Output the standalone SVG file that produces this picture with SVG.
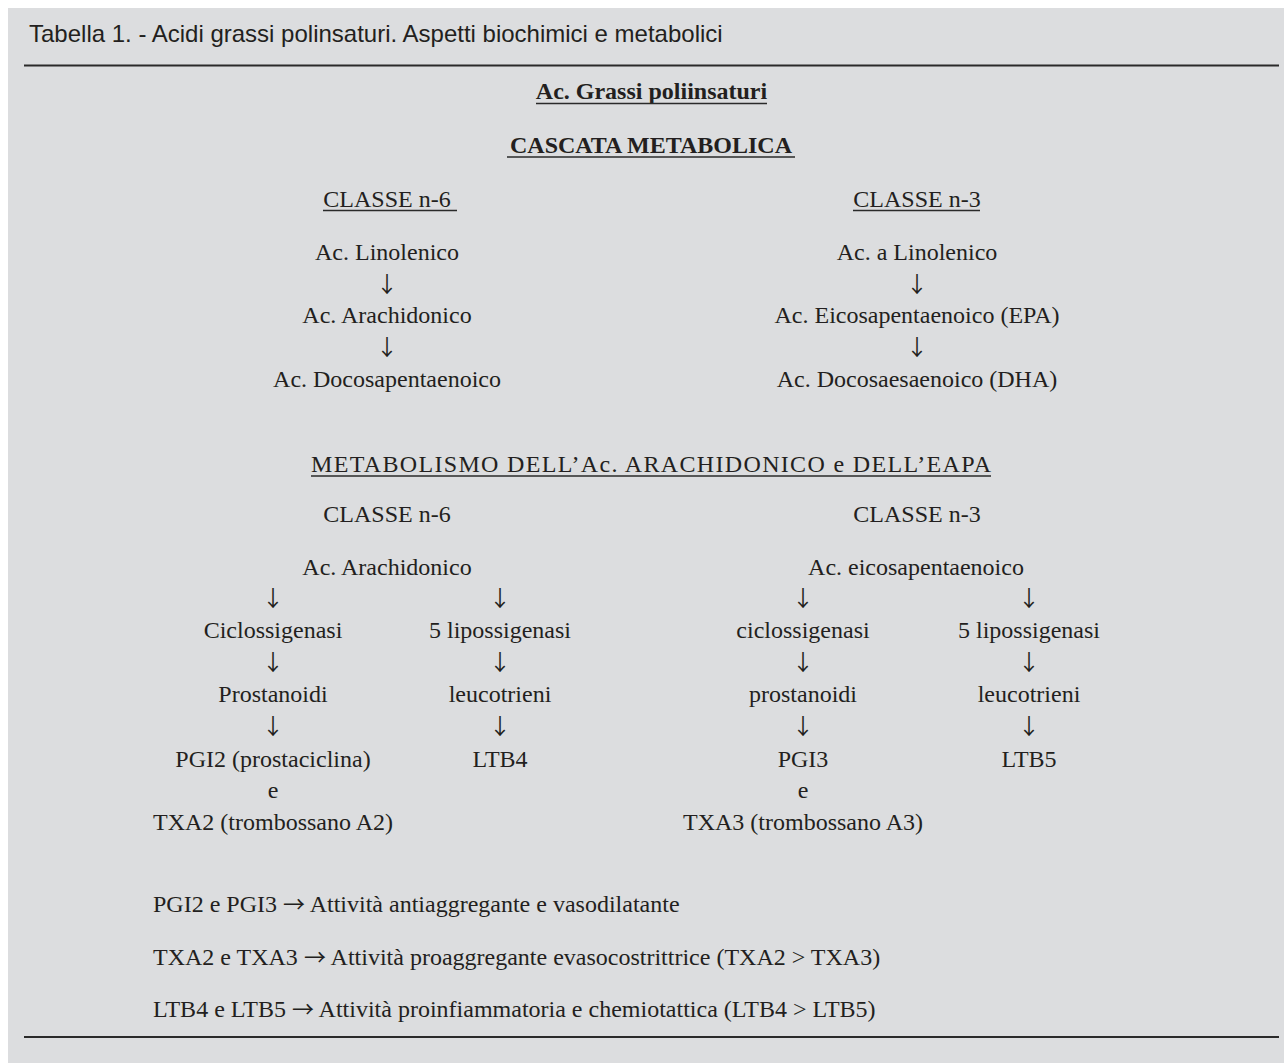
<svg xmlns="http://www.w3.org/2000/svg" width="1284" height="1063" viewBox="0 0 1284 1063">
<style>
  .bg { fill: #dcdddf; }
  .rule { stroke: #2a2a2a; stroke-width: 2; }
  .ul { stroke: #2a2a2a; stroke-width: 1.3; }
  .title { font-family: "Liberation Sans", Arial, sans-serif; font-size: 24px; fill: #231f20; }
  .t { font-family: "Liberation Serif", "Times New Roman", serif; font-size: 24px; fill: #231f20; text-anchor: middle; }
  .b { font-weight: bold; }
  .l { text-anchor: start; }
  .arr { font-family: "Noto Sans CJK SC", "DejaVu Sans", sans-serif; font-size: 22px; fill: #231f20; text-anchor: middle; }
  .ra { font-family: "Noto Sans CJK SC", "DejaVu Sans", sans-serif; font-size: 22px; fill: #231f20; }
</style>
<rect x="0" y="0" width="1284" height="1063" fill="#ffffff"/>
<rect class="bg" x="8" y="8" width="1276" height="1055"/>
<g id="header">
  <text class="title" x="29" y="42">Tabella 1. - Acidi grassi polinsaturi. Aspetti biochimici e metabolici</text>
  <line class="rule" x1="24" y1="65.5" x2="1279" y2="65.5"/>
</g>
<g id="heading-main">
  <text class="t b" x="651.5" y="99">Ac. Grassi poliinsaturi</text>
  <line class="ul" x1="536" y1="103.5" x2="767" y2="103.5"/>
</g>
<g id="heading-cascata">
  <text class="t b" x="651" y="153">CASCATA METABOLICA</text>
  <line class="ul" x1="507" y1="157" x2="795" y2="157"/>
</g>
<g id="classe-n6-top">
  <text class="t" x="387" y="207">CLASSE n-6</text>
  <line class="ul" x1="323" y1="210.5" x2="457" y2="210.5"/>
</g>
<g id="classe-n3-top">
  <text class="t" x="917" y="207">CLASSE n-3</text>
  <line class="ul" x1="853" y1="210.5" x2="980" y2="210.5"/>
</g>
<g id="linolenico"><text class="t" x="387" y="260">Ac. Linolenico</text></g>
<g id="arachidonico-1"><text class="t" x="387" y="323">Ac. Arachidonico</text></g>
<g id="docosapentaenoico"><text class="t" x="387" y="387">Ac. Docosapentaenoico</text></g>
<g id="a-linolenico"><text class="t" x="917" y="260">Ac. a Linolenico</text></g>
<g id="epa"><text class="t" x="917" y="323">Ac. Eicosapentaenoico (EPA)</text></g>
<g id="dha"><text class="t" x="917" y="387">Ac. Docosaesaenoico (DHA)</text></g>
<g id="heading-metabolismo">
  <text class="t" x="651" y="472" textLength="680" lengthAdjust="spacing">METABOLISMO DELL’Ac. ARACHIDONICO e DELL’EAPA</text>
  <line class="ul" x1="311" y1="476" x2="991" y2="476"/>
</g>
<g id="classe-n6"><text class="t" x="387" y="522">CLASSE n-6</text></g>
<g id="classe-n3"><text class="t" x="917" y="522">CLASSE n-3</text></g>
<g id="arachidonico-2"><text class="t" x="387" y="575">Ac. Arachidonico</text></g>
<g id="eicosapentaenoico"><text class="t" x="916" y="575">Ac. eicosapentaenoico</text></g>
<g id="ciclossigenasi-6"><text class="t" x="273" y="638">Ciclossigenasi</text></g>
<g id="lipossigenasi-6"><text class="t" x="500" y="638">5 lipossigenasi</text></g>
<g id="prostanoidi-6"><text class="t" x="273" y="702">Prostanoidi</text></g>
<g id="leucotrieni-6"><text class="t" x="500" y="702">leucotrieni</text></g>
<g id="pgi2-txa2">
  <text class="t" x="273" y="767">PGI2 (prostaciclina)</text>
  <text class="t" x="273" y="798">e</text>
  <text class="t" x="273" y="830">TXA2 (trombossano A2)</text>
</g>
<g id="ltb4"><text class="t" x="500" y="767">LTB4</text></g>
<g id="ciclossigenasi-3"><text class="t" x="803" y="638">ciclossigenasi</text></g>
<g id="lipossigenasi-3"><text class="t" x="1029" y="638">5 lipossigenasi</text></g>
<g id="prostanoidi-3"><text class="t" x="803" y="702">prostanoidi</text></g>
<g id="leucotrieni-3"><text class="t" x="1029" y="702">leucotrieni</text></g>
<g id="pgi3-txa3">
  <text class="t" x="803" y="767">PGI3</text>
  <text class="t" x="803" y="798">e</text>
  <text class="t" x="803" y="830">TXA3 (trombossano A3)</text>
</g>
<g id="ltb5"><text class="t" x="1029" y="767">LTB5</text></g>
<g id="notes">
  <text class="t l" x="153" y="912">PGI2 e PGI3 <tspan class="ra">→</tspan> Attività antiaggregante e vasodilatante</text>
  <text class="t l" x="153" y="965">TXA2 e TXA3 <tspan class="ra">→</tspan> Attività proaggregante evasocostrittrice (TXA2 &gt; TXA3)</text>
  <text class="t l" x="153" y="1017">LTB4 e LTB5 <tspan class="ra">→</tspan> Attività proinfiammatoria e chemiotattica (LTB4 &gt; LTB5)</text>
  <line class="rule" x1="24" y1="1037" x2="1279" y2="1037"/>
</g>
<g id="connectors">
  <text class="arr" x="387" y="292">↓</text>
  <text class="arr" x="387" y="355">↓</text>
  <text class="arr" x="917" y="292">↓</text>
  <text class="arr" x="917" y="355">↓</text>
  <text class="arr" x="273" y="606">↓</text>
  <text class="arr" x="500" y="606">↓</text>
  <text class="arr" x="803" y="606">↓</text>
  <text class="arr" x="1029" y="606">↓</text>
  <text class="arr" x="273" y="670">↓</text>
  <text class="arr" x="500" y="670">↓</text>
  <text class="arr" x="803" y="670">↓</text>
  <text class="arr" x="1029" y="670">↓</text>
  <text class="arr" x="273" y="734">↓</text>
  <text class="arr" x="500" y="734">↓</text>
  <text class="arr" x="803" y="734">↓</text>
  <text class="arr" x="1029" y="734">↓</text>
</g>
</svg>
